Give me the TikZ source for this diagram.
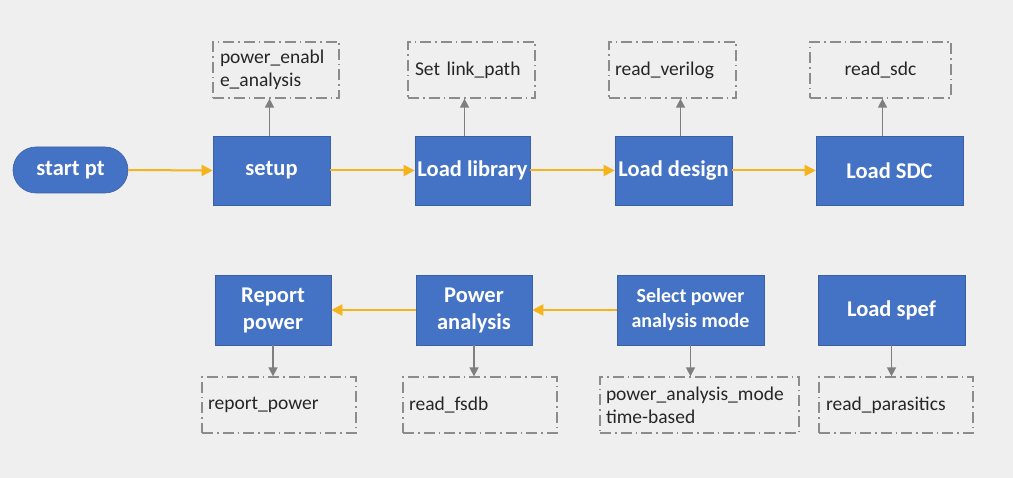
\documentclass[tikz,border=0pt]{standalone}
\usepackage{fontspec}
\setmainfont{Carlito}
\usetikzlibrary{arrows.meta,shapes.misc}
\definecolor{bg}{HTML}{EFEFEF}
\definecolor{boxblue}{HTML}{4472C4}
\definecolor{flow}{HTML}{F5B31C}
\definecolor{aux}{HTML}{7F7F7F}
\definecolor{dashc}{HTML}{8C8C8C}
\tikzset{
  bluebox/.style={fill=boxblue, draw=boxblue!85!black, line width=0.6pt, text=white,
    font=\bfseries\fontsize{22.5}{27}\selectfont, align=center, inner sep=0pt},
  startbox/.style={bluebox, rounded rectangle},
  cmdbox/.style={draw=dashc, line width=1.3pt, dash pattern=on 11pt off 4pt on 1.5pt off 4pt,
    font=\fontsize{19.5}{23}\selectfont, text=black!85, inner xsep=7pt, inner ysep=0pt},
  flowarrow/.style={draw=flow, line width=2pt, -{Triangle[length=11pt,width=11pt]}},
  auxarrow/.style={draw=aux, line width=1.6pt, -{Triangle[length=9pt,width=9pt]}}
}
\begin{document}
\begin{tikzpicture}[x=1pt,y=-1pt]
\fill[bg] (0,0) rectangle (1013,478);
\useasboundingbox (0,0) rectangle (1013,478);

% top row
\node[startbox, minimum width=115pt, minimum height=46pt] (start) at (70.5,170) {start pt};
\node[bluebox, minimum width=117pt, minimum height=69pt] (setup) at (271.5,170.5) {setup};
\node[bluebox, minimum width=115pt, minimum height=69pt] (lib) at (472.5,170.5) {Load library};
\node[bluebox, minimum width=117pt, minimum height=69pt] (design) at (673.5,170.5) {Load design};
\node[bluebox, minimum width=147pt, minimum height=69pt] (sdc) at (889.5,170.5) {Load SDC};

\node[cmdbox, minimum width=126pt, minimum height=56pt, text width=112pt, align=left] (pe) at (276,70) {power\_enabl\\e\_analysis};
\node[cmdbox, minimum width=127pt, minimum height=56pt, text width=113pt, align=left] (lp) at (471.5,70) {Set link\_path};
\node[cmdbox, minimum width=127pt, minimum height=56pt, text width=115pt, inner xsep=6pt, align=left] (rv) at (672.5,70) {read\_verilog};
\node[cmdbox, minimum width=141pt, minimum height=56pt, text width=127pt, align=center] (rs) at (880.5,70) {read\_sdc};

\draw[flowarrow] (start.east) -- (setup.west);
\draw[flowarrow] (setup.east) -- (lib.west);
\draw[flowarrow] (lib.east) -- (design.west);
\draw[flowarrow] (design.east) -- (sdc.west);

\draw[auxarrow] ([xshift=-2pt]setup.north) -- ([xshift=-2pt]setup.north |- pe.south);
\draw[auxarrow] ([xshift=-8pt]lib.north) -- ([xshift=-8pt]lib.north |- lp.south);
\draw[auxarrow] ([xshift=7pt]design.north) -- ([xshift=7pt]design.north |- rv.south);
\draw[auxarrow] ([xshift=-7pt]sdc.north) -- ([xshift=-7pt]sdc.north |- rs.south);

% bottom row
\node[bluebox, minimum width=116pt, minimum height=70pt] (rep) at (273,310) {Report\\power};
\node[bluebox, minimum width=116pt, minimum height=70pt] (pa) at (474,310) {Power\\analysis};
\node[bluebox, minimum width=147pt, minimum height=70pt, font=\bfseries\fontsize{20}{25}\selectfont] (sel) at (690.5,310) {Select power\\analysis mode};
\node[bluebox, minimum width=147pt, minimum height=70pt] (spef) at (891.5,310) {Load spef};

\node[cmdbox, minimum width=154pt, minimum height=56pt, text width=142pt, inner xsep=6pt, align=left] (rpc) at (279,405) {report\_power};
\node[cmdbox, minimum width=154pt, minimum height=56pt, text width=142pt, inner xsep=6pt, align=left] (fsdb) at (480,405) {read\_fsdb};
\node[cmdbox, minimum width=199pt, minimum height=56pt, text width=187pt, inner xsep=6pt, align=left] (pam) at (699.5,405) {power\_analysis\_mode\\time-based};
\node[cmdbox, minimum width=154pt, minimum height=56pt, text width=140pt, align=left] (par) at (896,405) {read\_parasitics};

\draw[flowarrow] (sel.west) -- (pa.east);
\draw[flowarrow] (pa.west) -- (rep.east);

\draw[auxarrow] (rep.south) -- (rep.south |- rpc.north);
\draw[auxarrow] (pa.south) -- (pa.south |- fsdb.north);
\draw[auxarrow] (sel.south) -- (sel.south |- pam.north);
\draw[auxarrow] (spef.south) -- (spef.south |- par.north);
\end{tikzpicture}
\end{document}
